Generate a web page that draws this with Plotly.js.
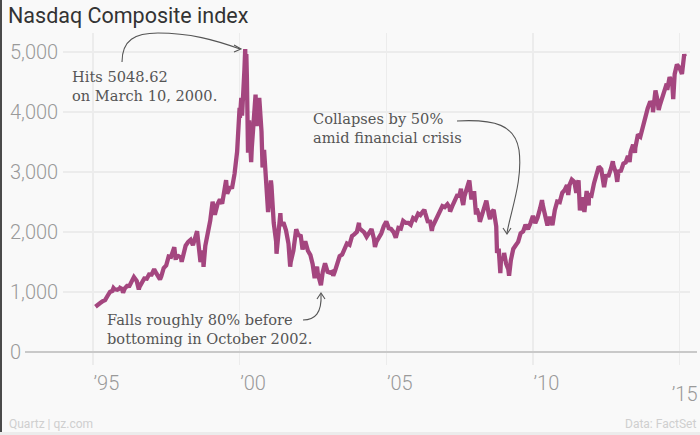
<!DOCTYPE html>
<html>
<head>
<meta charset="utf-8">
<script src="https://cdn.plot.ly/plotly-3.0.1.min.js"></script>
<style>html,body{margin:0;padding:0;background:#f9f9f9;}#chart{width:700px;height:435px;}</style>
</head>
<body>
<div id="chart"></div>
<script>
// ---- data (Nasdaq Composite) ----
const dates = [
'1995-01-31','1995-02-28','1995-03-31','1995-04-28','1995-05-31','1995-06-30','1995-07-31','1995-08-31','1995-09-13','1995-09-29','1995-10-31','1995-11-30','1995-12-04','1995-12-29',
'1996-01-10','1996-01-31','1996-02-29','1996-03-29','1996-04-30','1996-05-24','1996-06-28','1996-07-24','1996-07-31','1996-08-30','1996-09-30','1996-10-31','1996-11-29','1996-12-31',
'1997-01-31','1997-02-28','1997-03-31','1997-04-14','1997-04-30','1997-05-30','1997-06-30','1997-07-31','1997-08-29','1997-09-30','1997-10-09','1997-10-27','1997-10-31','1997-11-28','1997-12-31',
'1998-01-09','1998-01-30','1998-02-27','1998-03-31','1998-04-30','1998-05-29','1998-06-30','1998-07-20','1998-07-31','1998-08-31','1998-09-30','1998-10-08','1998-10-30','1998-11-30','1998-12-31',
'1999-01-29','1999-02-26','1999-03-31','1999-04-30','1999-05-28','1999-06-30','1999-07-16','1999-07-30','1999-08-31','1999-09-30','1999-10-29','1999-11-30','1999-12-31',
'2000-01-04','2000-01-21','2000-01-31','2000-02-29','2000-03-10','2000-03-15','2000-03-24','2000-03-31','2000-04-14','2000-04-28','2000-05-23','2000-05-31','2000-06-30','2000-07-17','2000-07-31','2000-08-31','2000-09-01','2000-09-29','2000-10-12','2000-10-31','2000-11-30','2000-12-20','2000-12-29',
'2001-01-24','2001-01-31','2001-02-28','2001-03-30','2001-04-04','2001-04-30','2001-05-22','2001-05-31','2001-06-29','2001-07-31','2001-08-31','2001-09-21','2001-09-28','2001-10-31','2001-11-30','2001-12-05','2001-12-31',
'2002-01-31','2002-02-22','2002-02-28','2002-03-28','2002-04-30','2002-05-31','2002-06-28','2002-07-23','2002-07-31','2002-08-22','2002-08-30','2002-09-30','2002-10-09','2002-10-31','2002-11-29','2002-12-31',
'2003-01-31','2003-02-28','2003-03-11','2003-03-31','2003-04-30','2003-05-30','2003-06-30','2003-07-31','2003-08-29','2003-09-30','2003-10-31','2003-11-28','2003-12-31',
'2004-01-26','2004-01-30','2004-02-27','2004-03-31','2004-04-30','2004-05-28','2004-06-30','2004-07-30','2004-08-12','2004-08-31','2004-09-30','2004-10-29','2004-11-30','2004-12-31',
'2005-01-31','2005-02-28','2005-03-31','2005-04-28','2005-05-31','2005-06-30','2005-07-29','2005-08-31','2005-09-30','2005-10-31','2005-11-30','2005-12-30',
'2006-01-31','2006-02-28','2006-03-31','2006-04-19','2006-04-28','2006-05-31','2006-06-30','2006-07-21','2006-07-31','2006-08-31','2006-09-29','2006-10-31','2006-11-30','2006-12-29',
'2007-01-31','2007-02-27','2007-03-05','2007-03-30','2007-04-30','2007-05-31','2007-06-29','2007-07-19','2007-07-31','2007-08-16','2007-08-31','2007-09-28','2007-10-31','2007-11-26','2007-11-30','2007-12-31',
'2008-01-22','2008-01-31','2008-02-29','2008-03-10','2008-03-31','2008-04-30','2008-05-30','2008-06-30','2008-07-15','2008-07-31','2008-08-29','2008-09-30','2008-10-10','2008-10-31','2008-11-20','2008-11-28','2008-12-31',
'2009-01-06','2009-01-30','2009-02-27','2009-03-09','2009-03-31','2009-04-30','2009-05-29','2009-06-30','2009-07-31','2009-08-31','2009-09-30','2009-10-30','2009-11-30','2009-12-31',
'2010-01-29','2010-02-26','2010-03-31','2010-04-23','2010-04-30','2010-05-28','2010-06-30','2010-07-30','2010-08-31','2010-09-30','2010-10-29','2010-11-30','2010-12-31',
'2011-01-31','2011-02-28','2011-03-16','2011-03-31','2011-04-29','2011-05-31','2011-06-24','2011-06-30','2011-07-22','2011-08-08','2011-08-31','2011-09-30','2011-10-03','2011-10-31','2011-11-25','2011-11-30','2011-12-30',
'2012-01-31','2012-02-29','2012-03-30','2012-04-30','2012-05-31','2012-06-04','2012-06-29','2012-07-31','2012-08-31','2012-09-21','2012-09-28','2012-10-31','2012-11-15','2012-11-30','2012-12-31',
'2013-01-31','2013-02-28','2013-03-28','2013-04-18','2013-04-30','2013-05-31','2013-06-24','2013-06-28','2013-07-31','2013-08-30','2013-09-30','2013-10-31','2013-11-29','2013-12-31',
'2014-01-31','2014-02-03','2014-02-28','2014-03-06','2014-03-31','2014-04-15','2014-04-30','2014-05-30','2014-06-30','2014-07-24','2014-07-31','2014-08-29','2014-09-30','2014-10-13','2014-10-31','2014-11-28','2014-12-31',
'2015-01-30','2015-02-27','2015-03-06'
];
const closes = [
755,793,817,843,865,933,1001,1020,1067,1044,1036,1059,1069,1052,
988,1060,1100,1101,1191,1249,1185,1042,1081,1141,1226,1222,1293,1291,
1380,1309,1222,1208,1261,1400,1442,1594,1587,1686,1745,1535,1594,1601,1570,
1503,1619,1771,1835,1869,1779,1895,2014,1873,1499,1694,1419,1771,1950,2193,
2506,2288,2461,2543,2471,2686,2864,2638,2739,2746,2966,3336,4069,
3901,4235,3940,4697,5049,4583,4964,4573,3321,3861,3164,3401,3966,4289,3767,4206,4234,3673,3074,3370,2598,2333,2471,
2859,2773,2152,1840,1638,2116,2313,2110,2161,2027,1805,1423,1499,1690,1931,2046,1950,
1934,1710,1731,1845,1688,1616,1463,1229,1328,1423,1315,1172,1114,1330,1479,1336,
1321,1338,1271,1341,1464,1596,1623,1735,1810,1787,1932,1960,2003,
2153,2066,2030,1994,1920,1987,2048,1887,1752,1838,1897,1975,2097,2175,
2062,2052,1999,1904,2068,2057,2185,2152,2152,2120,2233,2205,
2306,2281,2340,2370,2323,2179,2172,2020,2091,2184,2258,2367,2432,2415,
2464,2408,2340,2422,2525,2605,2603,2720,2546,2451,2596,2701,2859,2541,2661,2652,
2292,2389,2271,2170,2279,2413,2523,2293,2215,2326,2368,2092,1650,1721,1316,1536,1577,
1652,1476,1378,1269,1529,1717,1774,1835,1979,2009,2122,2045,2145,2269,
2147,2238,2398,2531,2461,2257,2109,2255,2114,2369,2507,2498,2653,
2700,2782,2617,2781,2874,2835,2652,2774,2859,2358,2579,2415,2335,2684,2441,2620,2605,
2814,2967,3092,3046,2827,2747,2935,2940,3067,3180,3116,2977,2836,3010,3020,
3142,3160,3268,3166,3329,3456,3320,3403,3626,3590,3771,3920,4060,4177,
4104,3997,4308,4358,4199,4034,4115,4243,4408,4473,4370,4580,4493,4214,4631,4792,4736,
4635,4964,4927
];
const xTickVals = ['1995-01-01','2000-01-01','2005-01-01','2010-01-01','2015-01-01'];
const xTickText = ['\u201995','\u201900','\u201905','\u201910','\u201915'];
const yTickVals = [0,1000,2000,3000,4000,5000];
const yTickText = ['0','1,000','2,000','3,000','4,000','5,000'];

const titleText = 'Nasdaq Composite index';
const noteTexts = [
  'Hits 5048.62<br>on March 10, 2000.',
  'Collapses by 50%<br>amid financial crisis',
  'Falls roughly 80% before<br>bottoming in October 2002.'
];

// ---- layout helpers (pixel -> paper) ----
const W = 700, H = 435, ML = 8, MR = 10, MT = 33, MB = 70;
const PW = W - ML - MR, PH = H - MT - MB;
const px = x => (x - ML) / PW;
const py = y => (H - MB - y) / PH;
function path(cmds) {
  return cmds.map(c => c[0] + ' ' + c.slice(1).reduce((a, v, i) => {
    if (i % 2 === 0) a.push(px(v).toFixed(5)); else a.push(py(v).toFixed(5));
    return a;
  }, []).join(' ')).join(' ');
}
const arrowStyle = {color: '#555', width: 1.1};
const shapes = [
  {type:'line', xref:'paper', yref:'y', x0:px(25), x1:px(697), y0:0, y1:0, line:{color:'#c9c9c9', width:2}, layer:'above'},
  {type:'path', xref:'paper', yref:'paper', path: path([['M',122,62],['C',122,40,135,33,158,33],['C',190,33,215,40,240,49]]), line:arrowStyle},
  {type:'path', xref:'paper', yref:'paper', path: path([['M',234,45],['L',241,49],['L',234,52]]), line:arrowStyle},
  {type:'path', xref:'paper', yref:'paper', path: path([['M',457,121],['C',495,119,515,125,519,150],['C',523,180,511,210,507,233]]), line:arrowStyle},
  {type:'path', xref:'paper', yref:'paper', path: path([['M',503,228],['L',507,234],['L',511,228]]), line:arrowStyle},
  {type:'path', xref:'paper', yref:'paper', path: path([['M',303,320],['C',315,320,322,313,321,294]]), line:arrowStyle},
  {type:'path', xref:'paper', yref:'paper', path: path([['M',317,299],['L',321,293],['L',325,299]]), line:arrowStyle},
  {type:'rect', xref:'paper', yref:'paper', x0:px(0), x1:px(2), y0:py(435), y1:py(0), line:{width:0}, fillcolor:'#4a4a4a'},
  {type:'rect', xref:'paper', yref:'paper', x0:px(0), x1:px(700), y0:py(435), y1:py(432), line:{width:0}, fillcolor:'#ececec'}
];
const serif = {family:'"DejaVu Serif", serif', size:14.6, color:'#555'};
const annotations = [
  {xref:'paper', yref:'paper', x:px(70), y:py(86), xanchor:'left', yanchor:'middle', align:'left', showarrow:false, text:noteTexts[0], font:serif},
  {xref:'paper', yref:'paper', x:px(311), y:py(128), xanchor:'left', yanchor:'middle', align:'left', showarrow:false, text:noteTexts[1], font:serif},
  {xref:'paper', yref:'paper', x:px(105), y:py(329), xanchor:'left', yanchor:'middle', align:'left', showarrow:false, text:noteTexts[2], font:serif},
  {xref:'paper', yref:'paper', x:px(7), y:py(424), xanchor:'left', yanchor:'middle', showarrow:false, text:'Quartz | qz.com', font:{family:'Roboto', size:12, color:'#cfcfcf'}},
  {xref:'paper', yref:'paper', x:px(698), y:py(424), xanchor:'right', yanchor:'middle', showarrow:false, text:'Data: FactSet', font:{family:'Roboto', size:12, color:'#cfcfcf'}}
];

const trace = {
  x: dates, y: closes, type:'scatter', mode:'lines',
  line:{color:'#a4467f', width:4.3, shape:'linear'}, hoverinfo:'skip'
};
// empty helper trace so the overlay axis carrying the last tick label exists
const axisTrace = {x: [], y: [], xaxis:'x2', yaxis:'y', type:'scatter', mode:'lines', hoverinfo:'skip', showlegend:false};

const tickFont = {family:'Roboto, sans-serif', size:20, color:'#9a9a9a', weight:300};
const xRange = ['1993-12-23','2015-05-10'];

const layout = {
  width: W, height: H,
  margin:{l:ML, r:MR, t:MT, b:MB, pad:0},
  paper_bgcolor:'#f9f9f9', plot_bgcolor:'#f9f9f9',
  font:{family:'Roboto, sans-serif'},
  showlegend:false,
  title:{text:titleText, xref:'container', yref:'container', x:8/W, xanchor:'left', y:1-15/H, yanchor:'middle',
         font:{family:'Roboto, sans-serif', size:21.5, color:'#333'}},
  xaxis:{
    type:'date', domain:[px(63), 1], range:xRange,
    tickmode:'array', tickvals:xTickVals, ticktext:xTickText.slice(0,4).concat(['']),
    ticklabelposition:'outside right',
    ticks:'outside', ticklen:11, tickcolor:'rgba(0,0,0,0)',
    showgrid:true, gridcolor:'#ececec', gridwidth:1.5,
    showline:false, zeroline:false, tickfont:tickFont
  },
  xaxis2:{
    type:'date', overlaying:'x', anchor:'y', side:'bottom', range:xRange,
    tickmode:'array', tickvals:xTickVals.slice(4), ticktext:xTickText.slice(4),
    ticks:'outside', ticklen:11, tickcolor:'rgba(0,0,0,0)', ticklabelshift:5,
    showgrid:false, showline:false, zeroline:false, tickfont:tickFont
  },
  yaxis:{
    anchor:'free', position:0, range:[-216.7, 5316.7],
    tickmode:'array', tickvals:yTickVals, ticktext:yTickText,
    ticklabelposition:'inside', ticklabeloverflow:'allow', ticks:'', ticklabelstandoff:-2,
    showgrid:true, gridcolor:'#ececec', gridwidth:1.5,
    showline:false, zeroline:false, tickfont:tickFont
  },
  shapes: shapes,
  annotations: annotations
};

Plotly.newPlot('chart', [trace, axisTrace], layout, {displayModeBar:false, staticPlot:true});
</script>
</body>
</html>
